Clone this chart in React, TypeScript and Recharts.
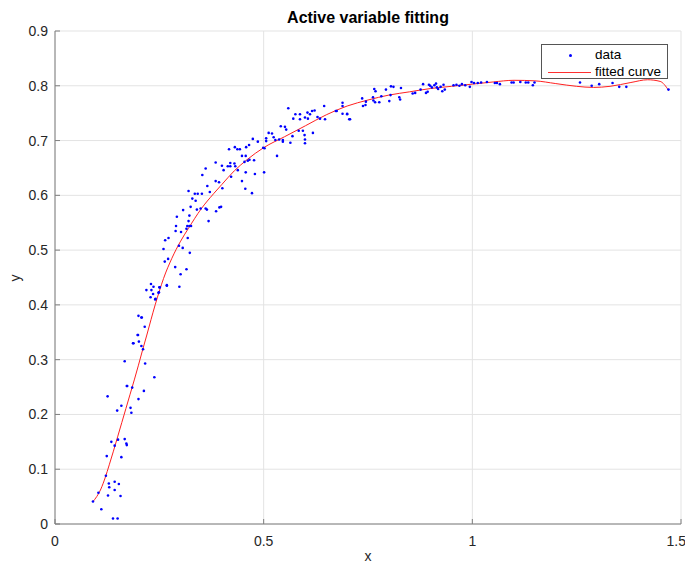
import {
  ComposedChart, Scatter, Line, XAxis, YAxis, CartesianGrid,
} from "recharts";

// measured data points [x, y]
const dataX = [
  0.091, 0.104, 0.111, 0.122, 0.124, 0.126, 0.127, 0.129, 0.130, 0.135, 0.139, 0.143, 0.143, 0.143,
  0.149, 0.150, 0.151, 0.153, 0.157, 0.159, 0.159, 0.167, 0.167, 0.171, 0.172, 0.172, 0.173, 0.181,
  0.183, 0.185, 0.187, 0.188, 0.198, 0.199, 0.200, 0.200, 0.201, 0.207, 0.207, 0.208, 0.211, 0.213,
  0.215, 0.216, 0.219, 0.229, 0.230, 0.231, 0.235, 0.236, 0.240, 0.241, 0.248, 0.249, 0.250, 0.251,
  0.238, 0.260, 0.263, 0.264, 0.268, 0.268, 0.271, 0.272, 0.288, 0.289, 0.290, 0.292, 0.297, 0.298,
  0.301, 0.302, 0.306, 0.307, 0.315, 0.315, 0.317, 0.318, 0.320, 0.320, 0.322, 0.322, 0.323, 0.325,
  0.326, 0.329, 0.335, 0.337, 0.340, 0.342, 0.349, 0.352, 0.353, 0.361, 0.361, 0.364, 0.365, 0.368,
  0.371, 0.385, 0.385, 0.386, 0.393, 0.394, 0.398, 0.400, 0.401, 0.404, 0.414, 0.417, 0.420, 0.420,
  0.422, 0.430, 0.431, 0.432, 0.437, 0.438, 0.443, 0.448, 0.448, 0.454, 0.456, 0.457, 0.457, 0.458,
  0.462, 0.465, 0.466, 0.472, 0.474, 0.477, 0.479, 0.486, 0.499, 0.501, 0.502, 0.506, 0.506, 0.512,
  0.520, 0.524, 0.528, 0.532, 0.537, 0.541, 0.546, 0.546, 0.551, 0.554, 0.559, 0.564, 0.569, 0.571,
  0.576, 0.584, 0.587, 0.587, 0.594, 0.598, 0.599, 0.599, 0.599, 0.605, 0.606, 0.611, 0.616, 0.618,
  0.622, 0.629, 0.635, 0.645, 0.647, 0.673, 0.675, 0.689, 0.689, 0.689, 0.700, 0.700, 0.705, 0.707,
  0.736, 0.738, 0.744, 0.745, 0.762, 0.763, 0.765, 0.767, 0.768, 0.777, 0.782, 0.793, 0.801, 0.804,
  0.805, 0.811, 0.825, 0.827, 0.829, 0.857, 0.863, 0.876, 0.882, 0.889, 0.893, 0.896, 0.899, 0.903,
  0.909, 0.913, 0.915, 0.918, 0.924, 0.928, 0.931, 0.934, 0.955, 0.962, 0.969, 0.975, 0.983, 0.994,
  0.998, 1.004, 1.013, 1.021, 1.035, 1.054, 1.059, 1.066, 1.094, 1.099, 1.115, 1.128, 1.134, 1.145,
  1.149, 1.258, 1.286, 1.304, 1.336, 1.352, 1.369, 1.470,
];
const dataY = [
  0.041, 0.057, 0.027, 0.088, 0.124, 0.233, 0.052, 0.074, 0.067, 0.150, 0.010, 0.143, 0.077, 0.062,
  0.207, 0.010, 0.154, 0.073, 0.051, 0.216, 0.122, 0.155, 0.297, 0.147, 0.144, 0.252, 0.252, 0.212,
  0.203, 0.249, 0.330, 0.330, 0.345, 0.345, 0.380, 0.228, 0.333, 0.377, 0.325, 0.377, 0.319, 0.243,
  0.360, 0.293, 0.427, 0.414, 0.438, 0.427, 0.420, 0.433, 0.410, 0.411, 0.422, 0.423, 0.432, 0.432,
  0.268, 0.502, 0.479, 0.518, 0.436, 0.435, 0.484, 0.522, 0.469, 0.535, 0.544, 0.561, 0.508, 0.433,
  0.456, 0.533, 0.504, 0.573, 0.539, 0.465, 0.544, 0.522, 0.553, 0.608, 0.563, 0.544, 0.495, 0.579,
  0.544, 0.594, 0.603, 0.590, 0.574, 0.603, 0.576, 0.603, 0.637, 0.576, 0.649, 0.574, 0.617, 0.553,
  0.606, 0.660, 0.626, 0.571, 0.624, 0.578, 0.579, 0.654, 0.613, 0.646, 0.653, 0.684, 0.659, 0.653,
  0.634, 0.658, 0.688, 0.653, 0.684, 0.646, 0.684, 0.672, 0.626, 0.661, 0.612, 0.672, 0.642, 0.688,
  0.663, 0.692, 0.665, 0.604, 0.703, 0.664, 0.639, 0.698, 0.687, 0.642, 0.686, 0.704, 0.699, 0.714,
  0.713, 0.706, 0.701, 0.672, 0.702, 0.726, 0.701, 0.698, 0.725, 0.720, 0.759, 0.696, 0.708, 0.740,
  0.748, 0.718, 0.748, 0.739, 0.718, 0.710, 0.742, 0.702, 0.695, 0.751, 0.740, 0.748, 0.754, 0.714,
  0.755, 0.743, 0.740, 0.763, 0.739, 0.754, 0.754, 0.769, 0.763, 0.749, 0.749, 0.748, 0.739, 0.739,
  0.777, 0.763, 0.765, 0.771, 0.779, 0.773, 0.794, 0.770, 0.790, 0.770, 0.781, 0.793, 0.772, 0.783,
  0.799, 0.798, 0.779, 0.775, 0.796, 0.786, 0.787, 0.793, 0.803, 0.787, 0.789, 0.802, 0.800, 0.797,
  0.801, 0.804, 0.797, 0.794, 0.798, 0.790, 0.802, 0.793, 0.801, 0.802, 0.800, 0.803, 0.801, 0.798,
  0.807, 0.805, 0.805, 0.806, 0.807, 0.805, 0.805, 0.803, 0.806, 0.806, 0.807, 0.806, 0.806, 0.801,
  0.806, 0.806, 0.800, 0.803, 0.805, 0.798, 0.798, 0.793,
];

// fitted curve
const curveX = [
  0.091, 0.10, 0.11, 0.12, 0.13, 0.14, 0.15, 0.16, 0.17, 0.18, 0.19, 0.20, 0.21, 0.22, 0.23, 0.24,
  0.25, 0.26, 0.28, 0.30, 0.32, 0.35, 0.38, 0.40, 0.43, 0.46, 0.50, 0.55, 0.60, 0.65, 0.70, 0.75,
  0.80, 0.85, 0.90, 0.95, 1.00, 1.05, 1.10, 1.15, 1.20, 1.25, 1.29, 1.33, 1.38, 1.42, 1.45, 1.47,
];
const curveY = [
  0.041, 0.050, 0.064, 0.084, 0.108, 0.133, 0.159, 0.185, 0.211, 0.237, 0.263, 0.290, 0.318, 0.345,
  0.373, 0.400, 0.425, 0.448, 0.485, 0.515, 0.540, 0.575, 0.603, 0.620, 0.645, 0.665, 0.687, 0.707,
  0.727, 0.747, 0.763, 0.774, 0.783, 0.789, 0.795, 0.799, 0.803, 0.807, 0.810, 0.809, 0.804, 0.799,
  0.797, 0.799, 0.806, 0.811, 0.808, 0.792,
];

const xTicks = [0, 0.5, 1, 1.5];
const yTicks = [0, 0.1, 0.2, 0.3, 0.4, 0.5, 0.6, 0.7, 0.8, 0.9];

const points = dataX.map((x, i) => ({ x, y: dataY[i] }));
const curve = curveX.map((x, i) => ({ x, y: curveY[i] }));

const FONT = "'Liberation Sans', Arial, Helvetica, sans-serif";
const AXIS = "#7f7f7f";
const TEXT = "#262626";

const Dot = (props: any) => <circle cx={props.cx} cy={props.cy} r={1.3} fill="#0000ff" />;
const NoTick = () => <g />;

const fmt = (v: number) => String(v);

// legend drawn on top of the chart, in the top right of the plot
const LegendBox = () => (
  <div
    style={{
      position: "absolute", left: 541, top: 44, width: 127, height: 35, boxSizing: "border-box",
      border: "1px solid #555", background: "#fff", fontFamily: FONT, fontSize: 13.5, color: "#000",
    }}
  >
    <div style={{ position: "absolute", left: 27, top: 9, width: 3, height: 3, background: "#0000ff", borderRadius: 2 }} />
    <div style={{ position: "absolute", left: 53, top: 2, lineHeight: "15px", whiteSpace: "nowrap" }}>data</div>
    <div style={{ position: "absolute", left: 6, top: 27, width: 43, height: 1, background: "#ff3030" }} />
    <div style={{ position: "absolute", left: 53, top: 19, lineHeight: "15px", whiteSpace: "nowrap" }}>fitted curve</div>
  </div>
);

export default function App() {
  return (
    <div style={{ position: "absolute", left: 0, top: 0, width: 685, height: 564, background: "#fff", overflow: "hidden" }}>
      <ComposedChart
        width={685}
        height={564}
        data={curve}
        margin={{ top: 31, right: 4, bottom: 0, left: 0 }}
        style={{ fontFamily: FONT }}
      >
        <CartesianGrid stroke="#e3e3e3" strokeWidth={1} horizontalValues={yTicks} verticalValues={xTicks} />
        <XAxis
          dataKey="x" type="number" domain={[0, 1.5]} ticks={xTicks} tickFormatter={fmt}
          height={40} stroke={AXIS} tickSize={-5} tickMargin={17}
          tick={{ fill: TEXT, fontSize: 14 }} allowDataOverflow
        />
        <XAxis
          xAxisId="top" orientation="top" dataKey="x" type="number" domain={[0, 1.5]} ticks={xTicks}
          height={0} stroke={AXIS} tickSize={-5} tick={NoTick} allowDataOverflow
        />
        <YAxis
          type="number" domain={[0, 0.9]} ticks={yTicks} tickFormatter={fmt}
          width={55} stroke={AXIS} tickSize={-5} tickMargin={12}
          tick={{ fill: TEXT, fontSize: 14 }} allowDataOverflow
        />
        <YAxis
          yAxisId="right" orientation="right" type="number" domain={[0, 0.9]} ticks={yTicks}
          width={0} stroke={AXIS} tickSize={-5} tick={NoTick} allowDataOverflow
        />
        <Scatter name="data" data={points} dataKey="y" shape={Dot} isAnimationActive={false} />
        <Line
          name="fitted curve" dataKey="y" type="monotone" stroke="#ff2020" strokeWidth={1}
          dot={false} activeDot={false} isAnimationActive={false}
        />
      </ComposedChart>
      <LegendBox />
      <div
        style={{
          position: "absolute", left: 55, width: 626, top: 8, textAlign: "center",
          fontFamily: FONT, fontWeight: "bold", fontSize: 16, color: "#000", lineHeight: "20px",
        }}
      >
        Active variable fitting
      </div>
      <div
        style={{
          position: "absolute", left: 55, width: 626, top: 547, textAlign: "center",
          fontFamily: FONT, fontSize: 14, color: TEXT, lineHeight: "18px",
        }}
      >
        x
      </div>
      <div
        style={{
          position: "absolute", left: 6, top: 269, width: 18, height: 18, textAlign: "center",
          fontFamily: FONT, fontSize: 14, color: TEXT, lineHeight: "18px", transform: "rotate(-90deg)",
        }}
      >
        y
      </div>
    </div>
  );
}
